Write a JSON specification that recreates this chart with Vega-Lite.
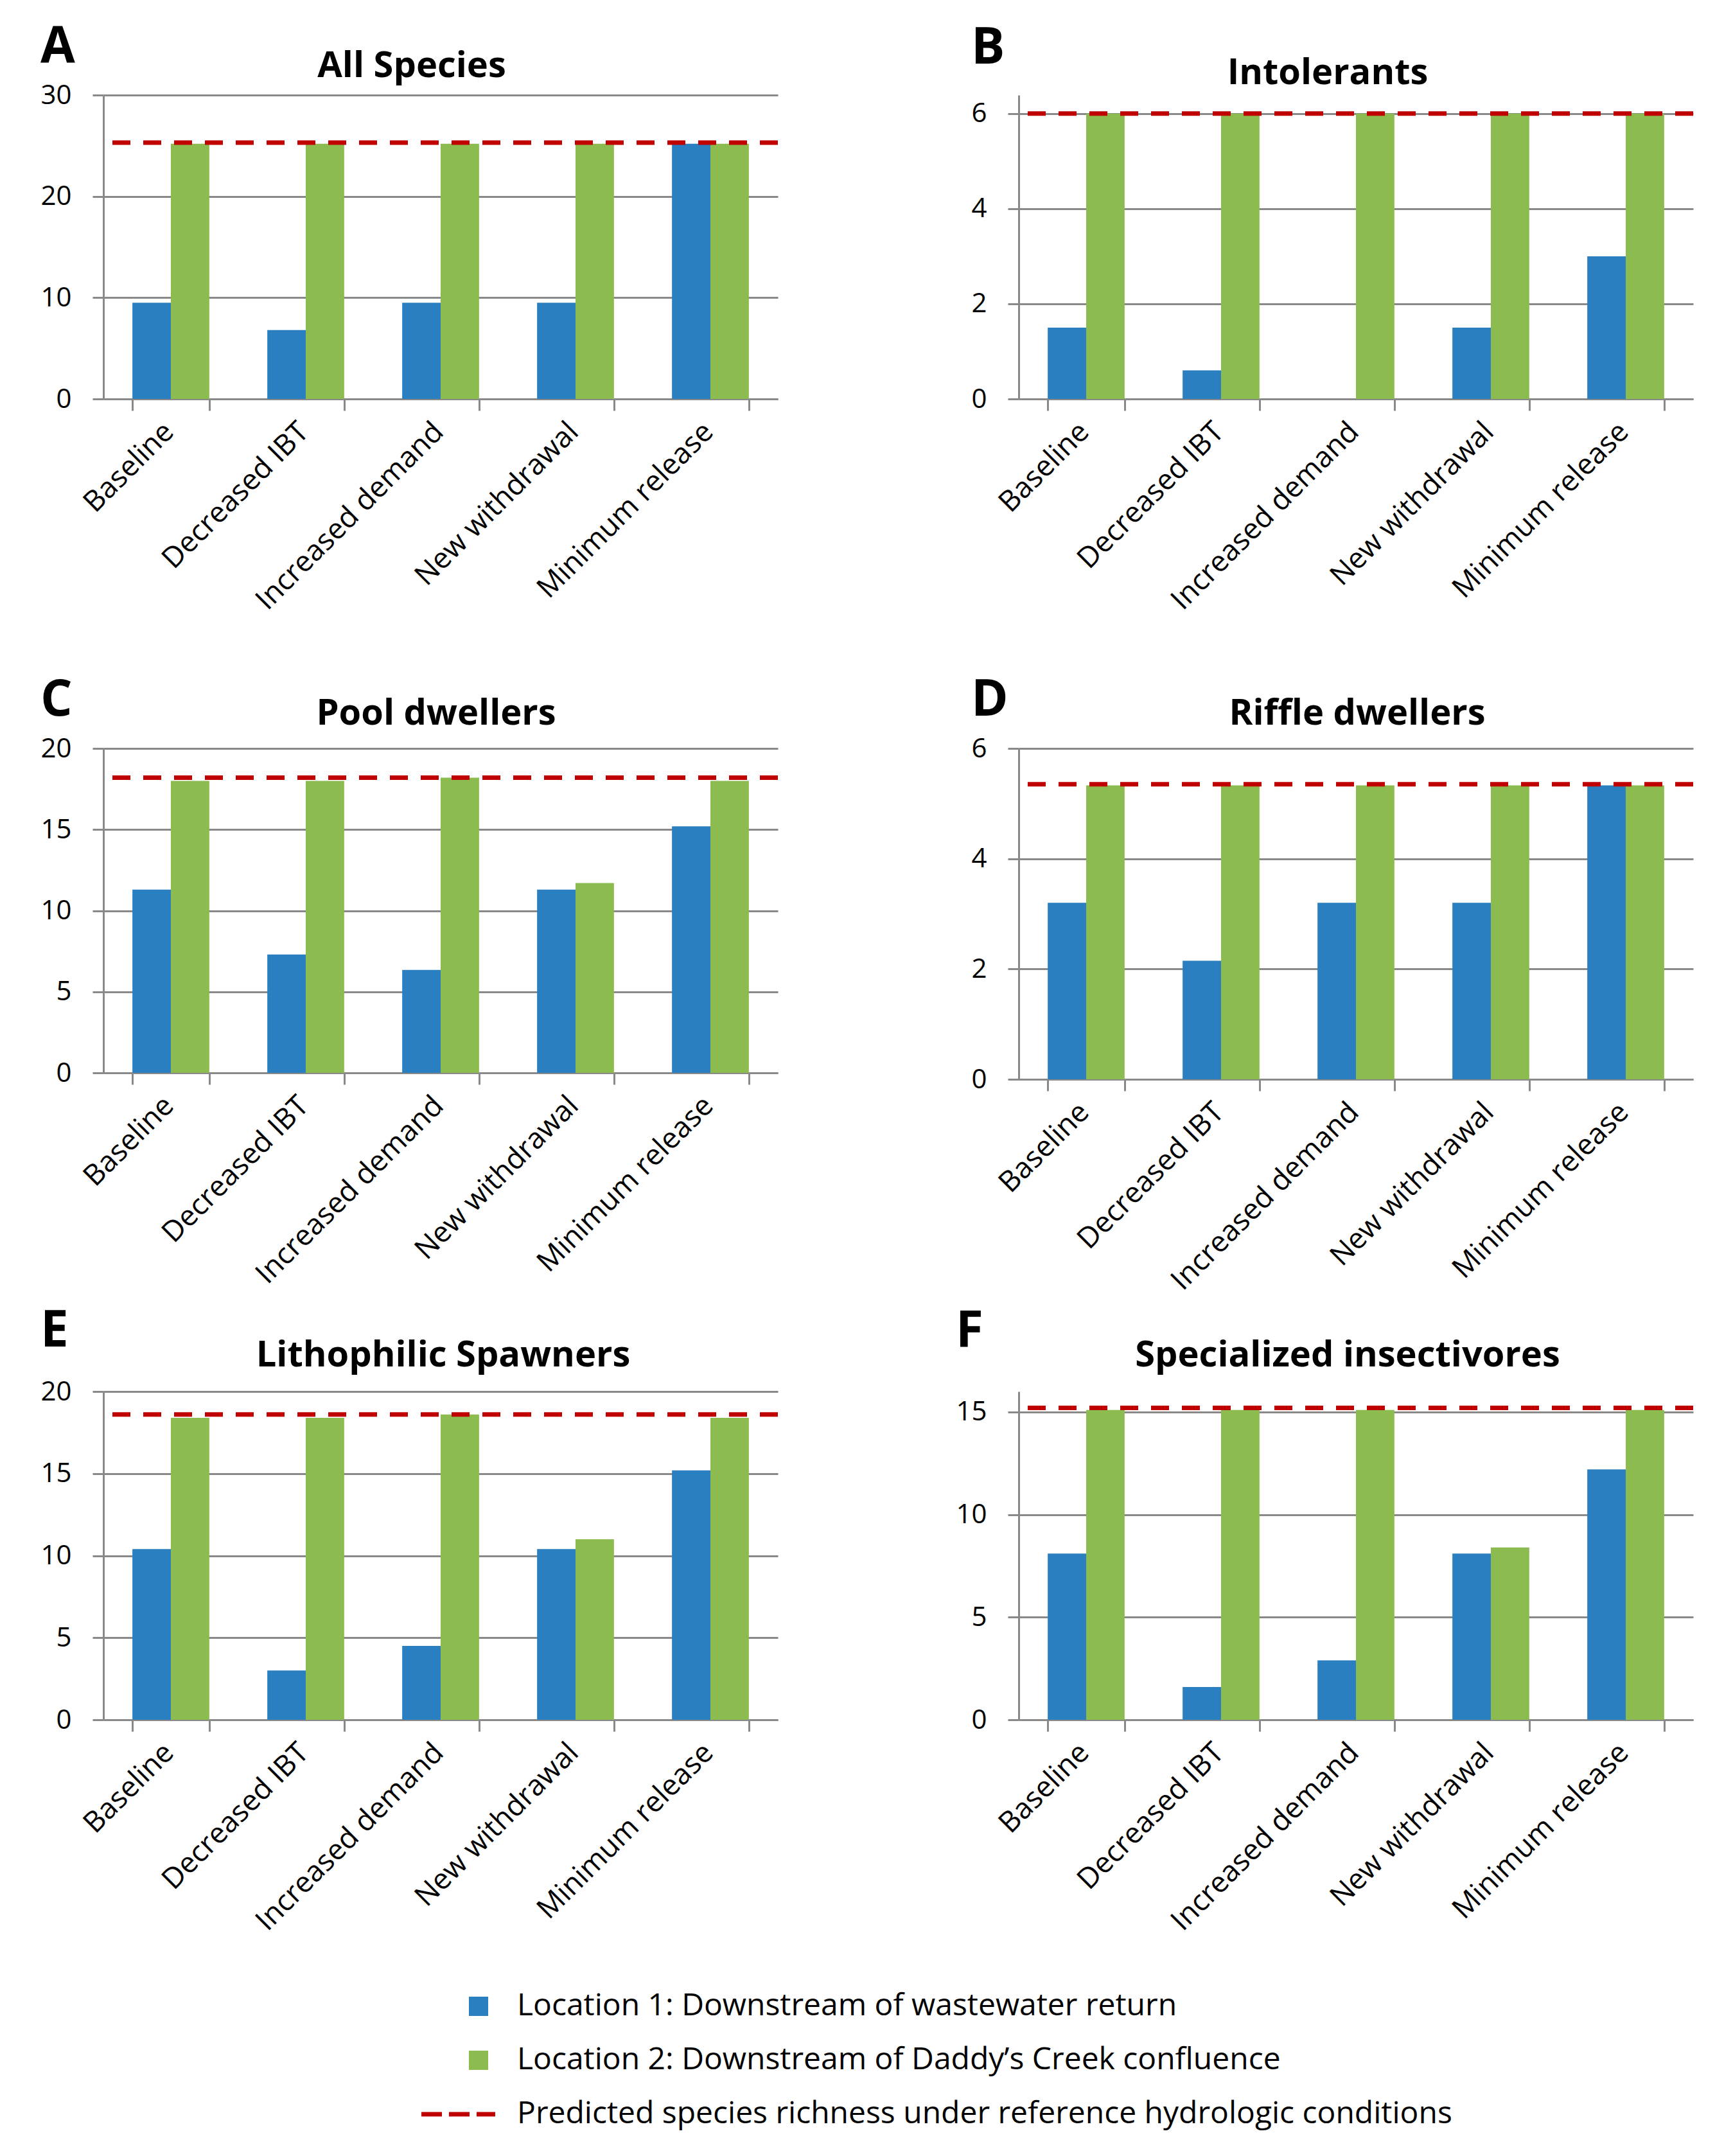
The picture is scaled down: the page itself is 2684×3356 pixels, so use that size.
{
  "$schema": "https://vega.github.io/schema/vega-lite/v6.json",
  "padding": {"left": 62, "top": 35, "right": 20, "bottom": 10},
  "background": "white",
  "config": {
    "font": "Open Sans",
    "view": {"stroke": null},
    "axis": {"labelFont": "Open Sans", "labelColor": "#000000", "labelFontSize": 42, "domainColor": "#898989", "domainWidth": 3, "tickColor": "#898989", "tickWidth": 3, "gridColor": "#898989", "gridWidth": 3},
    "axisX": {"labelAngle": -45, "tickBand": "extent", "tickSize": 18, "labelPadding": 10, "labelOffset": -19, "grid": false, "labelFontSize": 45, "labelLimit": 0},
    "axisY": {"tickSize": 17, "labelPadding": 33, "grid": true, "format": "d"},
    "title": {"font": "Open Sans", "fontWeight": "bold", "color": "#000000"},
    "legend": {"orient": "none", "legendX": 560, "legendY": 2951, "direction": "vertical", "symbolSize": 900, "labelFont": "Open Sans", "labelFontSize": 48, "labelColor": "#000000", "labelOffset": 36, "rowPadding": 36, "labelLimit": 0, "padding": 0, "title": null},
    "concat": {"spacing": 296}
  },
  "datasets": {
    "bars": [
      {"p": "A", "s": "Baseline", "g": "Location 1: Downstream of wastewater return", "v": 9.5},
      {"p": "A", "s": "Decreased IBT", "g": "Location 1: Downstream of wastewater return", "v": 6.8},
      {"p": "A", "s": "Increased demand", "g": "Location 1: Downstream of wastewater return", "v": 9.5},
      {"p": "A", "s": "New withdrawal", "g": "Location 1: Downstream of wastewater return", "v": 9.5},
      {"p": "A", "s": "Minimum release", "g": "Location 1: Downstream of wastewater return", "v": 25.2},
      {"p": "A", "s": "Baseline", "g": "Location 2: Downstream of Daddy’s Creek confluence", "v": 25.2},
      {"p": "A", "s": "Decreased IBT", "g": "Location 2: Downstream of Daddy’s Creek confluence", "v": 25.2},
      {"p": "A", "s": "Increased demand", "g": "Location 2: Downstream of Daddy’s Creek confluence", "v": 25.2},
      {"p": "A", "s": "New withdrawal", "g": "Location 2: Downstream of Daddy’s Creek confluence", "v": 25.2},
      {"p": "A", "s": "Minimum release", "g": "Location 2: Downstream of Daddy’s Creek confluence", "v": 25.2},
      {"p": "B", "s": "Baseline", "g": "Location 1: Downstream of wastewater return", "v": 1.5},
      {"p": "B", "s": "Decreased IBT", "g": "Location 1: Downstream of wastewater return", "v": 0.6},
      {"p": "B", "s": "Increased demand", "g": "Location 1: Downstream of wastewater return", "v": 0},
      {"p": "B", "s": "New withdrawal", "g": "Location 1: Downstream of wastewater return", "v": 1.5},
      {"p": "B", "s": "Minimum release", "g": "Location 1: Downstream of wastewater return", "v": 3.0},
      {"p": "B", "s": "Baseline", "g": "Location 2: Downstream of Daddy’s Creek confluence", "v": 6.0},
      {"p": "B", "s": "Decreased IBT", "g": "Location 2: Downstream of Daddy’s Creek confluence", "v": 6.0},
      {"p": "B", "s": "Increased demand", "g": "Location 2: Downstream of Daddy’s Creek confluence", "v": 6.0},
      {"p": "B", "s": "New withdrawal", "g": "Location 2: Downstream of Daddy’s Creek confluence", "v": 6.0},
      {"p": "B", "s": "Minimum release", "g": "Location 2: Downstream of Daddy’s Creek confluence", "v": 6.0},
      {"p": "C", "s": "Baseline", "g": "Location 1: Downstream of wastewater return", "v": 11.3},
      {"p": "C", "s": "Decreased IBT", "g": "Location 1: Downstream of wastewater return", "v": 7.3},
      {"p": "C", "s": "Increased demand", "g": "Location 1: Downstream of wastewater return", "v": 6.35},
      {"p": "C", "s": "New withdrawal", "g": "Location 1: Downstream of wastewater return", "v": 11.3},
      {"p": "C", "s": "Minimum release", "g": "Location 1: Downstream of wastewater return", "v": 15.2},
      {"p": "C", "s": "Baseline", "g": "Location 2: Downstream of Daddy’s Creek confluence", "v": 18.0},
      {"p": "C", "s": "Decreased IBT", "g": "Location 2: Downstream of Daddy’s Creek confluence", "v": 18.0},
      {"p": "C", "s": "Increased demand", "g": "Location 2: Downstream of Daddy’s Creek confluence", "v": 18.2},
      {"p": "C", "s": "New withdrawal", "g": "Location 2: Downstream of Daddy’s Creek confluence", "v": 11.7},
      {"p": "C", "s": "Minimum release", "g": "Location 2: Downstream of Daddy’s Creek confluence", "v": 18.0},
      {"p": "D", "s": "Baseline", "g": "Location 1: Downstream of wastewater return", "v": 3.2},
      {"p": "D", "s": "Decreased IBT", "g": "Location 1: Downstream of wastewater return", "v": 2.15},
      {"p": "D", "s": "Increased demand", "g": "Location 1: Downstream of wastewater return", "v": 3.2},
      {"p": "D", "s": "New withdrawal", "g": "Location 1: Downstream of wastewater return", "v": 3.2},
      {"p": "D", "s": "Minimum release", "g": "Location 1: Downstream of wastewater return", "v": 5.33},
      {"p": "D", "s": "Baseline", "g": "Location 2: Downstream of Daddy’s Creek confluence", "v": 5.33},
      {"p": "D", "s": "Decreased IBT", "g": "Location 2: Downstream of Daddy’s Creek confluence", "v": 5.33},
      {"p": "D", "s": "Increased demand", "g": "Location 2: Downstream of Daddy’s Creek confluence", "v": 5.33},
      {"p": "D", "s": "New withdrawal", "g": "Location 2: Downstream of Daddy’s Creek confluence", "v": 5.33},
      {"p": "D", "s": "Minimum release", "g": "Location 2: Downstream of Daddy’s Creek confluence", "v": 5.33},
      {"p": "E", "s": "Baseline", "g": "Location 1: Downstream of wastewater return", "v": 10.4},
      {"p": "E", "s": "Decreased IBT", "g": "Location 1: Downstream of wastewater return", "v": 3.0},
      {"p": "E", "s": "Increased demand", "g": "Location 1: Downstream of wastewater return", "v": 4.5},
      {"p": "E", "s": "New withdrawal", "g": "Location 1: Downstream of wastewater return", "v": 10.4},
      {"p": "E", "s": "Minimum release", "g": "Location 1: Downstream of wastewater return", "v": 15.2},
      {"p": "E", "s": "Baseline", "g": "Location 2: Downstream of Daddy’s Creek confluence", "v": 18.4},
      {"p": "E", "s": "Decreased IBT", "g": "Location 2: Downstream of Daddy’s Creek confluence", "v": 18.4},
      {"p": "E", "s": "Increased demand", "g": "Location 2: Downstream of Daddy’s Creek confluence", "v": 18.6},
      {"p": "E", "s": "New withdrawal", "g": "Location 2: Downstream of Daddy’s Creek confluence", "v": 11.0},
      {"p": "E", "s": "Minimum release", "g": "Location 2: Downstream of Daddy’s Creek confluence", "v": 18.4},
      {"p": "F", "s": "Baseline", "g": "Location 1: Downstream of wastewater return", "v": 8.1},
      {"p": "F", "s": "Decreased IBT", "g": "Location 1: Downstream of wastewater return", "v": 1.6},
      {"p": "F", "s": "Increased demand", "g": "Location 1: Downstream of wastewater return", "v": 2.9},
      {"p": "F", "s": "New withdrawal", "g": "Location 1: Downstream of wastewater return", "v": 8.1},
      {"p": "F", "s": "Minimum release", "g": "Location 1: Downstream of wastewater return", "v": 12.2},
      {"p": "F", "s": "Baseline", "g": "Location 2: Downstream of Daddy’s Creek confluence", "v": 15.1},
      {"p": "F", "s": "Decreased IBT", "g": "Location 2: Downstream of Daddy’s Creek confluence", "v": 15.1},
      {"p": "F", "s": "Increased demand", "g": "Location 2: Downstream of Daddy’s Creek confluence", "v": 15.1},
      {"p": "F", "s": "New withdrawal", "g": "Location 2: Downstream of Daddy’s Creek confluence", "v": 8.4},
      {"p": "F", "s": "Minimum release", "g": "Location 2: Downstream of Daddy’s Creek confluence", "v": 15.1}
    ],
    "ref": [
      {"p": "A", "g": "Predicted species richness under reference hydrologic conditions", "v": 25.3},
      {"p": "B", "g": "Predicted species richness under reference hydrologic conditions", "v": 6.0},
      {"p": "C", "g": "Predicted species richness under reference hydrologic conditions", "v": 18.2},
      {"p": "D", "g": "Predicted species richness under reference hydrologic conditions", "v": 5.35},
      {"p": "E", "g": "Predicted species richness under reference hydrologic conditions", "v": 18.6},
      {"p": "F", "g": "Predicted species richness under reference hydrologic conditions", "v": 15.2}
    ]
  },
  "spacing": 17,
  "vconcat": [
    {"spacing": 94, "vconcat": [
    {"hconcat": [
      {"title": {"text": "A", "anchor": "start", "frame": "bounds", "fontSize": 78, "offset": -38},
       "vconcat": [{
        "width": 1050, "height": 473,
        "title": {"text": "All Species", "fontSize": 56, "offset": -5, "dx": -45},
        "layer": [
          {"data": {"name": "bars"}, "transform": [{"filter": "datum.p === 'A'"}],
           "mark": {"type": "bar"},
           "encoding": {
             "x": {"field": "s", "type": "nominal", "title": null, "sort": ["Baseline", "Decreased IBT", "Increased demand", "New withdrawal", "Minimum release"], "scale": {"paddingInner": 0.43, "paddingOuter": 0.215}},
             "xOffset": {"field": "g", "type": "nominal", "scale": {"paddingInner": 0, "paddingOuter": 0}},
             "y": {"field": "v", "type": "quantitative", "title": null, "scale": {"domain": [0, 30], "nice": false}, "axis": {"values": [0, 10, 20, 30]}},
             "color": {"field": "g", "type": "nominal", "scale": {"domain": ["Location 1: Downstream of wastewater return", "Location 2: Downstream of Daddy’s Creek confluence", "Predicted species richness under reference hydrologic conditions"], "range": ["#2A7FC1", "#8CBB4F", "#C00000"]},
               "legend": {"encode": {"symbols": {"update": {
                 "shape": {"signal": "datum.value === 'Predicted species richness under reference hydrologic conditions' ? 'M-5.93,0H-3.8M-3.07,0H-0.93M-0.2,0H1.73' : 'square'"},
                 "fill": {"signal": "datum.value === 'Predicted species richness under reference hydrologic conditions' ? 'transparent' : scale('color', datum.value)"},
                 "stroke": {"signal": "datum.value === 'Predicted species richness under reference hydrologic conditions' ? '#C00000' : 'transparent'"},
                 "strokeWidth": {"signal": "datum.value === 'Predicted species richness under reference hydrologic conditions' ? 7 : 0"},
                 "opacity": {"value": 1}}}}}}
           }},
          {"data": {"name": "ref"}, "transform": [{"filter": "datum.p === 'A'"}],
           "mark": {"type": "rule", "strokeDash": [28, 20], "strokeWidth": 7},
           "encoding": {"y": {"field": "v", "type": "quantitative"}, "color": {"field": "g", "type": "nominal"}}}
        ]
      }]},
      {"title": {"text": "B", "anchor": "start", "frame": "bounds", "fontSize": 78, "offset": -29},
       "vconcat": [{
        "width": 1050, "height": 473,
        "title": {"text": "Intolerants", "fontSize": 56, "offset": 5, "dx": -44},
        "layer": [
          {"data": {"name": "bars"}, "transform": [{"filter": "datum.p === 'B'"}],
           "mark": {"type": "bar"},
           "encoding": {
             "x": {"field": "s", "type": "nominal", "title": null, "sort": ["Baseline", "Decreased IBT", "Increased demand", "New withdrawal", "Minimum release"], "scale": {"paddingInner": 0.43, "paddingOuter": 0.215}},
             "xOffset": {"field": "g", "type": "nominal", "scale": {"paddingInner": 0, "paddingOuter": 0}},
             "y": {"field": "v", "type": "quantitative", "title": null, "scale": {"domain": [0, 6.39], "nice": false}, "axis": {"values": [0, 2, 4, 6]}},
             "color": {"field": "g", "type": "nominal"}
           }},
          {"data": {"name": "ref"}, "transform": [{"filter": "datum.p === 'B'"}],
           "mark": {"type": "rule", "strokeDash": [28, 20], "strokeWidth": 7},
           "encoding": {"y": {"field": "v", "type": "quantitative"}, "color": {"field": "g", "type": "nominal"}}}
        ]
      }]}
    ]},
    {"hconcat": [
      {"title": {"text": "C", "anchor": "start", "frame": "bounds", "fontSize": 78, "offset": -47},
       "vconcat": [{
        "width": 1050, "height": 505,
        "title": {"text": "Pool dwellers", "fontSize": 56, "offset": 4, "dx": -7},
        "layer": [
          {"data": {"name": "bars"}, "transform": [{"filter": "datum.p === 'C'"}],
           "mark": {"type": "bar"},
           "encoding": {
             "x": {"field": "s", "type": "nominal", "title": null, "sort": ["Baseline", "Decreased IBT", "Increased demand", "New withdrawal", "Minimum release"], "scale": {"paddingInner": 0.43, "paddingOuter": 0.215}},
             "xOffset": {"field": "g", "type": "nominal", "scale": {"paddingInner": 0, "paddingOuter": 0}},
             "y": {"field": "v", "type": "quantitative", "title": null, "scale": {"domain": [0, 20], "nice": false}, "axis": {"values": [0, 5, 10, 15, 20]}},
             "color": {"field": "g", "type": "nominal"}
           }},
          {"data": {"name": "ref"}, "transform": [{"filter": "datum.p === 'C'"}],
           "mark": {"type": "rule", "strokeDash": [28, 20], "strokeWidth": 7},
           "encoding": {"y": {"field": "v", "type": "quantitative"}, "color": {"field": "g", "type": "nominal"}}}
        ]
      }]},
      {"title": {"text": "D", "anchor": "start", "frame": "bounds", "fontSize": 78, "offset": -47},
       "vconcat": [{
        "width": 1050, "height": 515,
        "title": {"text": "Riffle dwellers", "fontSize": 56, "offset": 4, "dx": 2},
        "layer": [
          {"data": {"name": "bars"}, "transform": [{"filter": "datum.p === 'D'"}],
           "mark": {"type": "bar"},
           "encoding": {
             "x": {"field": "s", "type": "nominal", "title": null, "sort": ["Baseline", "Decreased IBT", "Increased demand", "New withdrawal", "Minimum release"], "scale": {"paddingInner": 0.43, "paddingOuter": 0.215}},
             "xOffset": {"field": "g", "type": "nominal", "scale": {"paddingInner": 0, "paddingOuter": 0}},
             "y": {"field": "v", "type": "quantitative", "title": null, "scale": {"domain": [0, 6], "nice": false}, "axis": {"values": [0, 2, 4, 6]}},
             "color": {"field": "g", "type": "nominal"}
           }},
          {"data": {"name": "ref"}, "transform": [{"filter": "datum.p === 'D'"}],
           "mark": {"type": "rule", "strokeDash": [28, 20], "strokeWidth": 7},
           "encoding": {"y": {"field": "v", "type": "quantitative"}, "color": {"field": "g", "type": "nominal"}}}
        ]
      }]}
    ]}
    ]},
    {"spacing": 272, "hconcat": [
      {"title": {"text": "E", "anchor": "start", "frame": "bounds", "fontSize": 78, "offset": -30},
       "vconcat": [{
        "width": 1050, "height": 511,
        "title": {"text": "Lithophilic Spawners", "fontSize": 56, "offset": 6, "dx": 4},
        "layer": [
          {"data": {"name": "bars"}, "transform": [{"filter": "datum.p === 'E'"}],
           "mark": {"type": "bar"},
           "encoding": {
             "x": {"field": "s", "type": "nominal", "title": null, "sort": ["Baseline", "Decreased IBT", "Increased demand", "New withdrawal", "Minimum release"], "scale": {"paddingInner": 0.43, "paddingOuter": 0.215}},
             "xOffset": {"field": "g", "type": "nominal", "scale": {"paddingInner": 0, "paddingOuter": 0}},
             "y": {"field": "v", "type": "quantitative", "title": null, "scale": {"domain": [0, 20], "nice": false}, "axis": {"values": [0, 5, 10, 15, 20]}},
             "color": {"field": "g", "type": "nominal"}
           }},
          {"data": {"name": "ref"}, "transform": [{"filter": "datum.p === 'E'"}],
           "mark": {"type": "rule", "strokeDash": [28, 20], "strokeWidth": 7},
           "encoding": {"y": {"field": "v", "type": "quantitative"}, "color": {"field": "g", "type": "nominal"}}}
        ]
      }]},
      {"title": {"text": "F", "anchor": "start", "frame": "bounds", "fontSize": 78, "offset": -30},
       "vconcat": [{
        "width": 1050, "height": 511,
        "title": {"text": "Specialized insectivores", "fontSize": 56, "offset": 27, "dx": -13},
        "layer": [
          {"data": {"name": "bars"}, "transform": [{"filter": "datum.p === 'F'"}],
           "mark": {"type": "bar"},
           "encoding": {
             "x": {"field": "s", "type": "nominal", "title": null, "sort": ["Baseline", "Decreased IBT", "Increased demand", "New withdrawal", "Minimum release"], "scale": {"paddingInner": 0.43, "paddingOuter": 0.215}},
             "xOffset": {"field": "g", "type": "nominal", "scale": {"paddingInner": 0, "paddingOuter": 0}},
             "y": {"field": "v", "type": "quantitative", "title": null, "scale": {"domain": [0, 16], "nice": false}, "axis": {"values": [0, 5, 10, 15]}},
             "color": {"field": "g", "type": "nominal"}
           }},
          {"data": {"name": "ref"}, "transform": [{"filter": "datum.p === 'F'"}],
           "mark": {"type": "rule", "strokeDash": [28, 20], "strokeWidth": 7},
           "encoding": {"y": {"field": "v", "type": "quantitative"}, "color": {"field": "g", "type": "nominal"}}}
        ]
      }]}
    ]}
  ]
}
